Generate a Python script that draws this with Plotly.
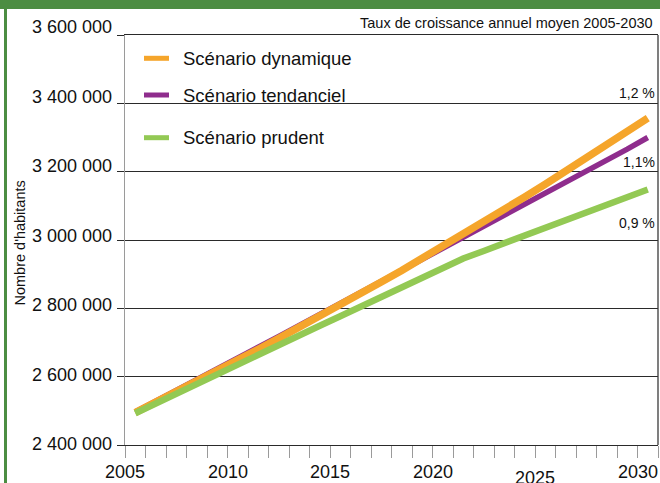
import plotly.graph_objects as go

# ---- data ----
years = list(range(2005, 2031))
dynamique = [2495000, 2525000, 2555000, 2586000, 2617000, 2648000, 2680000, 2712000,
             2744000, 2777000, 2810000, 2843000, 2877000, 2911000, 2946000, 2981000,
             3017000, 3053000, 3089000, 3126000, 3163000, 3201000, 3239000, 3278000,
             3317000, 3357000]
tendanciel = [2497000, 2528000, 2559000, 2590000, 2622000, 2654000, 2686000, 2718000,
              2750000, 2782000, 2814000, 2846000, 2879000, 2912000, 2945000, 2977000,
              3009000, 3040000, 3071000, 3103000, 3135000, 3167000, 3200000, 3233000,
              3266000, 3300000]
prudent = [2493000, 2522000, 2551000, 2580000, 2608000, 2637000, 2665000, 2693000,
           2721000, 2749000, 2777000, 2805000, 2833000, 2861000, 2889000, 2917000,
           2946000, 2968000, 2991000, 3013000, 3036000, 3058000, 3081000, 3103000,
           3126000, 3148000]
series_names = ["Scénario dynamique", "Scénario tendanciel", "Scénario prudent"]
rate_labels = ["1,2 %", "1,1%", "0,9 %"]
y_ticks = [2400000, 2600000, 2800000, 3000000, 3200000, 3400000, 3600000]
x_label_years = [2005, 2010, 2015, 2020, 2025, 2030]
subtitle = "Taux de croissance annuel moyen 2005-2030"
y_title = "Nombre d'habitants"

# ---- style ----
C_ORANGE = "#F5A52B"
C_PURPLE = "#8F2D8D"
C_GREEN = "#93C954"
C_FRAME = "#4C8D42"
C_GRID = "#2a2a2a"
FONT = "Liberation Sans, Arial, sans-serif"

W, H = 660, 483
L, R, T, B = 125, 2, 35, 38
PW, PH = W - L - R, H - T - B


def px_x(p):
    return (p - L) / PW


def px_y(p):
    return (H - B - p) / PH


fig = go.Figure()
# drawing order: purple under orange, green on top
fig.add_trace(go.Scatter(x=years, y=tendanciel, mode="lines", name=series_names[1],
                         line=dict(color=C_PURPLE, width=5.5), showlegend=False))
fig.add_trace(go.Scatter(x=years, y=dynamique, mode="lines", name=series_names[0],
                         line=dict(color=C_ORANGE, width=7.5), showlegend=False))
fig.add_trace(go.Scatter(x=years, y=prudent, mode="lines", name=series_names[2],
                         line=dict(color=C_GREEN, width=6.5), showlegend=False))

x_bounds = [y - 0.5 for y in years] + [years[-1] + 0.5]

fig.update_xaxes(range=[x_bounds[0], x_bounds[-1]], tickvals=x_bounds,
                 showticklabels=False, ticks="outside", ticklen=12, tickwidth=1.3,
                 tickcolor="#9a9a9a", showgrid=False, zeroline=False,
                 showline=True, linecolor=C_GRID, linewidth=1.2, mirror=True)
fig.update_yaxes(range=[y_ticks[0], y_ticks[-1]], tickvals=y_ticks,
                 showticklabels=False, ticks="outside", ticklen=7, tickwidth=1.2,
                 tickcolor=C_GRID, showgrid=True, gridcolor=C_GRID, gridwidth=1.2,
                 zeroline=False, showline=True, linecolor="#9a9a9a", linewidth=1.3)

ann = []
# y tick labels
for i, v in enumerate(y_ticks):
    ann.append(dict(x=0, xref="paper", y=v, yref="y", text=f"{v:,}".replace(",", " "),
                    xanchor="right", yanchor="middle", xshift=-11, yshift=1 + 1.15 * i,
                    showarrow=False, font=dict(family=FONT, size=18, color="#111")))
# x labels (on the left boundary of each year)
for yv in x_label_years:
    ann.append(dict(x=yv - 0.5, xref="x", y=0, yref="paper", text=str(yv),
                    xanchor="center", yanchor="middle",
                    yshift=-33 if yv == 2025 else -27,
                    showarrow=False, font=dict(family=FONT, size=18, color="#111")))
# subtitle
ann.append(dict(x=px_x(655), xref="paper", y=px_y(23.5), yref="paper", text=subtitle,
                xanchor="right", yanchor="middle", showarrow=False,
                font=dict(family=FONT, size=14.5, color="#111")))
# axis title
ann.append(dict(x=px_x(19.5), xref="paper", y=px_y(243), yref="paper", text=y_title,
                textangle=-90, xanchor="center", yanchor="middle", showarrow=False,
                font=dict(family=FONT, size=14.5, color="#111")))
# growth rate labels
for txt, py in zip(rate_labels, [93.3, 161.7, 223.3]):
    ann.append(dict(x=px_x(657), xref="paper", y=px_y(py), yref="paper", text=txt,
                    xanchor="right", yanchor="middle", showarrow=False,
                    font=dict(family=FONT, size=14, color="#111")))

shapes = []
# legend (drawn manually to match spacing)
for name, col, py in zip(series_names, [C_ORANGE, C_PURPLE, C_GREEN], [58.3, 95, 137.7]):
    shapes.append(dict(type="line", xref="paper", yref="paper", x0=px_x(144), x1=px_x(169),
                       y0=px_y(py), y1=px_y(py), line=dict(color=col, width=5)))
    ann.append(dict(x=px_x(181), xref="paper", y=px_y(py), yref="paper", text=name,
                    xanchor="left", yanchor="middle", showarrow=False,
                    font=dict(family=FONT, size=18.5, color="#111")))

# right frame line
shapes.append(dict(type="line", xref="paper", yref="paper", x0=1, x1=1, y0=0, y1=1,
                   line=dict(color="#3a3a3a", width=1.3)))
# green frame: top band and left rule
shapes.append(dict(type="rect", xref="paper", yref="paper", x0=px_x(-2), x1=px_x(W + 2),
                   y0=px_y(9), y1=px_y(-2), line=dict(width=0), fillcolor=C_FRAME))
shapes.append(dict(type="rect", xref="paper", yref="paper", x0=px_x(4), x1=px_x(7),
                   y0=px_y(H + 2), y1=px_y(5), line=dict(width=0), fillcolor=C_FRAME))

fig.update_layout(width=W, height=H, margin=dict(l=L, r=R, t=T, b=B),
                  paper_bgcolor="white", plot_bgcolor="white",
                  annotations=ann, shapes=shapes, showlegend=False,
                  font=dict(family=FONT, color="#111"))

fig.write_html("out.html", config={"displayModeBar": False},
               post_script="document.body.style.margin='0';"
                           "document.body.style.overflow='hidden';")
